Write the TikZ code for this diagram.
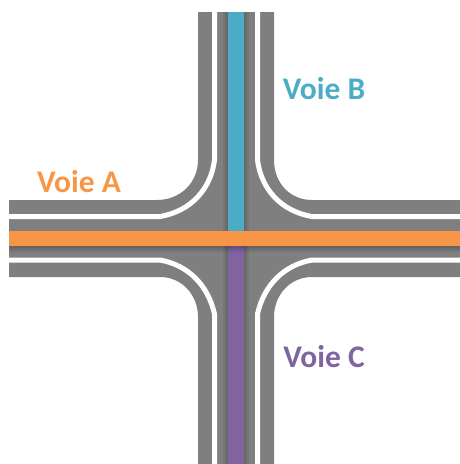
\documentclass[tikz,border=0pt]{standalone}
\usepackage{fontspec}
\setmainfont{Carlito}
\usetikzlibrary{positioning}
\definecolor{roadgray}{HTML}{7F7F7F}
\definecolor{voieA}{HTML}{F79646}
\definecolor{voieB}{HTML}{4BACC6}
\definecolor{voieC}{HTML}{8064A2}

\begin{document}
\begin{tikzpicture}[
    x=0.75pt, y=-0.75pt,
    road/.style={fill=roadgray, draw=none},
    marking/.style={draw=white, line width=3.75pt},
    lane/.style={draw=none},
    shade/.style={fill=black, draw=none, opacity=0.07},
    label/.style={font=\fontsize{23.6}{25}\selectfont\bfseries, inner sep=0pt}
]
    \useasboundingbox (0,0) rectangle (460,464);

    % --- Road surface ---
    \path [road] (198,12) -- (198,160) .. controls (198,183) and (180,200) .. (157,200)
        -- (9,200) -- (9,277) -- (160,277) .. controls (182,277) and (198,295) .. (198,317)
        -- (198,464) -- (274,464) -- (274,317) .. controls (274,295) and (290,277) .. (312,277)
        -- (460,277) -- (460,200) -- (312,200) .. controls (290,200) and (274,183) .. (274,160)
        -- (274,12) -- cycle;

    % --- White markings ---
    \draw [marking] (214.5,12) -- (214.5,160) .. controls (211,188) and (192,211) .. (160,216.5) -- (9,216.5);
    \draw [marking] (257.5,12) -- (257.5,160) .. controls (261,188) and (280,211) .. (312,216.5) -- (460,216.5);
    \draw [marking] (9,260) -- (160,260) .. controls (188,265) and (208,285) .. (214.5,314) -- (214.5,464);
    \draw [marking] (460,260) -- (312,260) .. controls (284,265) and (264,285) .. (257.5,314) -- (257.5,464);

    % --- Lanes and their shadows ---
    \foreach \off in {1,3,5} {
        \path [shade] (228-\off,12) rectangle (244+\off,231);
        \path [shade] (228-\off,246) rectangle (244+\off,464);
    }
    \path [lane, fill=voieB] (228,12) rectangle (244,231);
    \path [lane, fill=voieC] (228,246) rectangle (244,464);
    \foreach \off in {2,4,6} {
        \path [shade] (9,231) rectangle (460,246+\off);
    }
    \path [lane, fill=voieA] (9,231) rectangle (460,246);

    % --- Labels ---
    \node [label, text=voieA] (labelA) at (79,182) {Voie A};
    \node [label, text=voieB] (labelB) at (324,89) {Voie B};
    \node [label, text=voieC] (labelC) at (324,357) {Voie C};

\end{tikzpicture}
\end{document}
